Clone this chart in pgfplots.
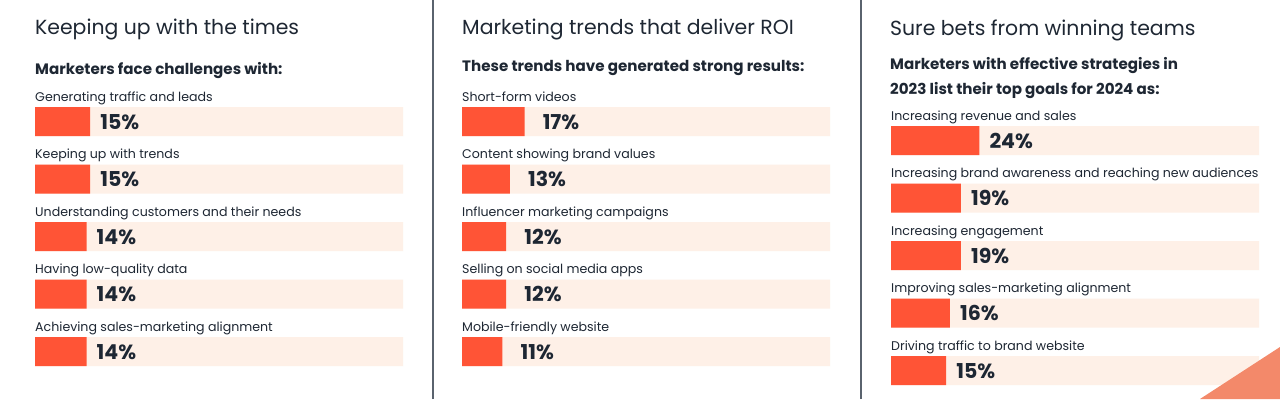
\documentclass[border=0pt]{standalone}
\usepackage{fontspec}
\setmainfont{Poppins}
\usepackage{pgfplots}
\pgfplotsset{compat=1.18}
\definecolor{barc}{HTML}{FF5436}
\definecolor{trackc}{HTML}{FEF0E7}
\definecolor{txt}{HTML}{1E2733}
\definecolor{divc}{HTML}{5A636E}
\definecolor{deco}{HTML}{F3896A}
\pgfplotsset{
  panel/.style={
    anchor=north west, width=368bp, height=287.5bp, scale only axis,
    xmin=0, xmax=100, ymin=0.5, ymax=5.5, y dir=reverse,
    hide axis, clip=false, xbar, bar width=29bp,
  },
  track/.style={fill=trackc, draw=none, bar shift=0pt, forget plot},
  val/.style={fill=barc, draw=none, bar shift=0pt,
    point meta=explicit symbolic, nodes near coords,
    nodes near coords style={anchor=base west, font=\fontsize{20.5bp}{24bp}\selectfont\bfseries, text=txt, inner sep=0pt, xshift=#1, yshift=-7.8bp}},
}
\newcommand{\cat}[2]{\node[anchor=base west, inner sep=0pt, text=txt, font=\fontsize{12.6bp}{15bp}\selectfont, yshift=20.5bp] at (axis cs:0,#1) {#2};}
\begin{document}
\begin{tikzpicture}[x=1bp,y=1bp]
\fill[white] (0,0) rectangle (1280,399);
\path[use as bounding box] (0,0) rectangle (1280,399);
\draw[divc, line width=1.2bp] (433,0) -- (433,399);
\draw[divc, line width=1.2bp] (861,0) -- (861,399);
% titles
\node[anchor=base west, inner sep=0pt, text=txt, font=\fontsize{20.4bp}{24bp}\selectfont] at (35,364.5) {Keeping up with the times};
\node[anchor=base west, inner sep=0pt, text=txt, font=\fontsize{20.4bp}{24bp}\selectfont] at (462,364.5) {Marketing trends that deliver ROI};
\node[anchor=base west, inner sep=0pt, text=txt, font=\fontsize{20.4bp}{24bp}\selectfont] at (890,364) {Sure bets from winning teams};
\node[anchor=base west, inner sep=0pt, text=txt, font=\fontsize{15.1bp}{18bp}\selectfont\bfseries] at (35,325) {Marketers face challenges with:};
\node[anchor=base west, inner sep=0pt, text=txt, font=\fontsize{15.1bp}{18bp}\selectfont\bfseries] at (462,328) {These trends have generated strong results:};
\node[anchor=base west, inner sep=0pt, text=txt, font=\fontsize{15.1bp}{18bp}\selectfont\bfseries] at (890,329.7) {Marketers with effective strategies in};
\node[anchor=base west, inner sep=0pt, text=txt, font=\fontsize{15.1bp}{18bp}\selectfont\bfseries] at (890,304.7) {2023 list their top goals for 2024 as:};
% panel 1
\begin{axis}[panel, at={(35bp,306.25bp)}]
\addplot[track] coordinates {(100,1) (100,2) (100,3) (100,4) (100,5)};
\addplot[val=10bp] coordinates {(15,1) [15\%] (15,2) [15\%] (14,3) [14\%] (14,4) [14\%] (14,5) [14\%]};
\cat{1}{Generating traffic and leads}
\cat{2}{Keeping up with trends}
\cat{3}{Understanding customers and their needs}
\cat{4}{Having low-quality data}
\cat{5}{Achieving sales-marketing alignment}
\end{axis}
% panel 2
\begin{axis}[panel, at={(462bp,306.25bp)}]
\addplot[track] coordinates {(100,1) (100,2) (100,3) (100,4) (100,5)};
\addplot[val=18bp] coordinates {(17,1) [17\%] (13,2) [13\%] (12,3) [12\%] (12,4) [12\%] (11,5) [11\%]};
\cat{1}{Short-form videos}
\cat{2}{Content showing brand values}
\cat{3}{Influencer marketing campaigns}
\cat{4}{Selling on social media apps}
\cat{5}{Mobile-friendly website}
\end{axis}
% panel 3
\begin{axis}[panel, at={(891bp,287.25bp)}]
\addplot[track] coordinates {(100,1) (100,2) (100,3) (100,4) (100,5)};
\addplot[val=10bp] coordinates {(24,1) [24\%] (19,2) [19\%] (19,3) [19\%] (16,4) [16\%] (15,5) [15\%]};
\cat{1}{Increasing revenue and sales}
\cat{2}{Increasing brand awareness and reaching new audiences}
\cat{3}{Increasing engagement}
\cat{4}{Improving sales-marketing alignment}
\cat{5}{Driving traffic to brand website}
\end{axis}
\fill[deco] (1200,0) -- (1280,52) -- (1280,0) -- cycle;
\end{tikzpicture}
\end{document}
